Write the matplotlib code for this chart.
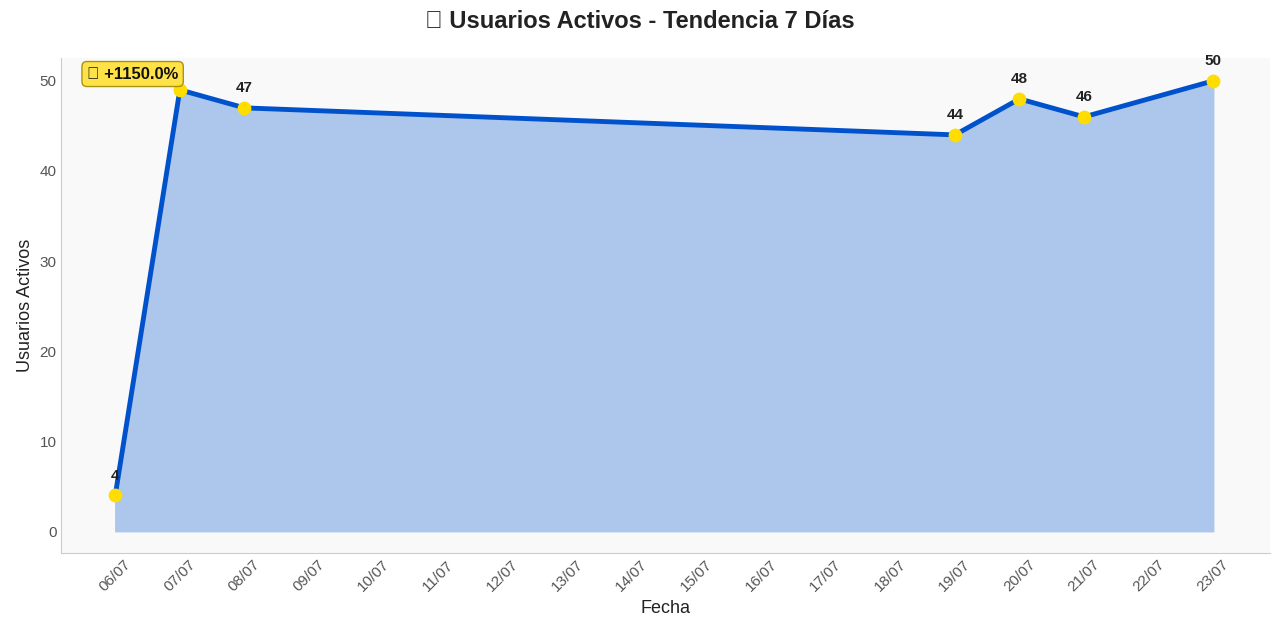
import matplotlib
matplotlib.use("Agg")
import matplotlib.pyplot as plt
import matplotlib.dates as mdates
import pandas as pd

plt.rcParams["font.family"] = ["Liberation Sans", "DejaVu Sans"]

dates = ["2024-07-06", "2024-07-07", "2024-07-08", "2024-07-19", "2024-07-20", "2024-07-21", "2024-07-23"]
users = [4, 49, 47, 44, 48, 46, 50]
growth_label = "\U0001F4C8 +1150.0%"

x = pd.to_datetime(dates)

fig, ax = plt.subplots(figsize=(12.8, 6.34), dpi=100)
fig.subplots_adjust(left=0.048, right=0.992, top=0.908, bottom=0.128)
ax.set_facecolor("#f9f9f9")

ax.fill_between(x, users, 0, color="#adc6eb")
ax.plot(x, users, color="#0052cc", lw=3.5, zorder=3)
ax.scatter(x, users, s=80, color="#ffdd00", zorder=4)
for i in [0, 2, 3, 4, 5, 6]:
    ax.annotate(str(users[i]), (x[i], users[i]), xytext=(0, 9), textcoords="offset points",
                ha="center", va="bottom", fontsize=11, fontweight="bold", color="#222222")

ax.annotate(growth_label, (x[1], users[1]), xytext=(-34, 6), textcoords="offset points",
            ha="center", va="bottom", fontsize=12, fontweight="bold", color="#111111",
            bbox=dict(boxstyle="round,pad=0.3", fc="#ffe033", ec="#a08a00", alpha=0.9), zorder=5)

ax.set_xlim(pd.Timestamp("2024-07-05 04:00"), pd.Timestamp("2024-07-23 21:00"))
ax.set_ylim(-2.4, 52.5)
ax.xaxis.set_major_locator(mdates.DayLocator())
ax.xaxis.set_major_formatter(mdates.DateFormatter("%d/%m"))
plt.setp(ax.get_xticklabels(), rotation=45, fontsize=11, color="#555555")
plt.setp(ax.get_yticklabels(), fontsize=11, color="#555555")
ax.tick_params(length=0)
for s in ["top", "right"]:
    ax.spines[s].set_visible(False)
for s in ["left", "bottom"]:
    ax.spines[s].set_color("#cccccc")

ax.set_xlabel("Fecha", fontsize=13, color="#222222")
ax.set_ylabel("Usuarios Activos", fontsize=13, color="#222222")
fig.suptitle("\U0001F4C8 Usuarios Activos - Tendencia 7 Días", fontsize=17, fontweight="bold",
             color="#222222", y=0.985)

fig.savefig("out.png", dpi=100)
